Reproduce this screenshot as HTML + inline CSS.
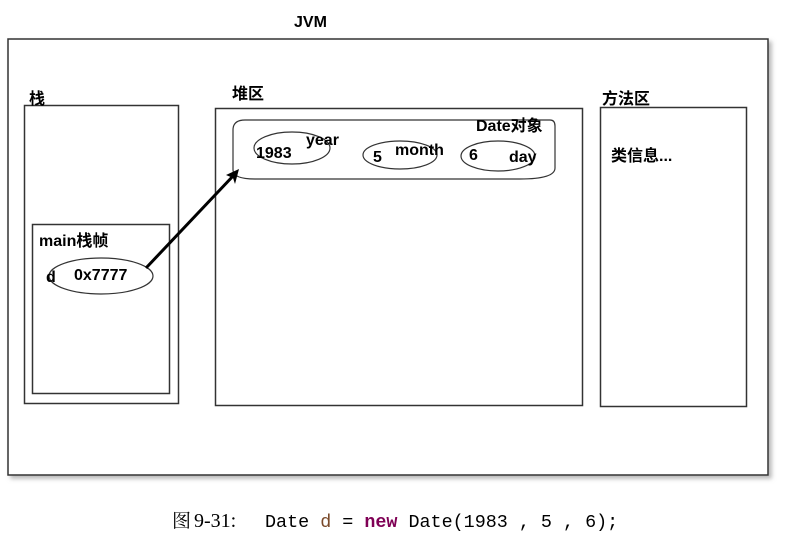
<!DOCTYPE html>
<html><head><meta charset="utf-8"><style>
html,body{margin:0;padding:0;background:#fff;}
body{width:789px;height:541px;position:relative;overflow:hidden;}
svg{position:absolute;left:0;top:0;}
.t{font-family:"Liberation Sans","Noto Sans CJK SC",sans-serif;font-weight:bold;font-size:16px;fill:#000;}
</style></head><body>
<svg width="789" height="541" viewBox="0 0 789 541">
  <defs>
    <filter id="sh" x="-5%" y="-5%" width="110%" height="110%">
      <feDropShadow dx="3" dy="3" stdDeviation="2" flood-color="#888" flood-opacity="0.6"/>
    </filter>
  </defs>
  <rect x="8" y="39" width="760" height="436" fill="#fff" stroke="#333" stroke-width="1.5" filter="url(#sh)"/>
  <text class="t" x="294" y="27" font-size="17">JVM</text>
  <rect x="24.5" y="105.5" width="154" height="298" fill="none" stroke="#333" stroke-width="1.5"/>
  <text class="t" x="29" y="104">栈</text>
  <rect x="32.5" y="224.5" width="137" height="169" fill="none" stroke="#333" stroke-width="1.5"/>
  <text class="t" x="39" y="246">main栈帧</text>
  <ellipse cx="101" cy="276" rx="52" ry="18" fill="none" stroke="#333" stroke-width="1.2"/>
  <text class="t" x="46" y="282" font-size="17">d</text>
  <text class="t" x="74" y="280" font-size="17">0x7777</text>
  <rect x="215.5" y="108.5" width="367" height="297" fill="none" stroke="#333" stroke-width="1.5"/>
  <text class="t" x="232" y="99">堆区</text>
  <path d="M245,120 L550,120 Q555,120 555,126 L555,168 Q555,179 520,179 L255,179 Q233,179 233,170 L233,130 Q233,120 245,120 Z" fill="none" stroke="#333" stroke-width="1.2"/>
  <text class="t" x="476" y="131">Date对象</text>
  <ellipse cx="292" cy="148" rx="38" ry="16" fill="none" stroke="#333" stroke-width="1.2"/>
  <text class="t" x="256" y="158" font-size="17">1983</text>
  <text class="t" x="306" y="145">year</text>
  <ellipse cx="400" cy="155" rx="37" ry="14" fill="none" stroke="#333" stroke-width="1.2"/>
  <text class="t" x="373" y="162" font-size="17">5</text>
  <text class="t" x="395" y="155">month</text>
  <ellipse cx="498" cy="156" rx="37" ry="15" fill="none" stroke="#333" stroke-width="1.2"/>
  <text class="t" x="469" y="160" font-size="17">6</text>
  <text class="t" x="509" y="162">day</text>
  <rect x="600.5" y="107.5" width="146" height="299" fill="none" stroke="#333" stroke-width="1.5"/>
  <text class="t" x="602" y="104">方法区</text>
  <text class="t" x="611" y="161">类信息...</text>
  <line x1="146" y1="268" x2="234" y2="175" stroke="#000" stroke-width="3"/>
  <path d="M239,169 L226,175 L233,178 L235,184 Z" fill="#000"/>
  <text x="172" y="527" font-family="'Noto Serif CJK SC','Liberation Serif',serif" font-size="19">图</text>
  <text x="194" y="527" font-family="'Liberation Serif',serif" font-size="20">9-31:</text>
  <text x="265" y="527" font-family="'Liberation Mono',monospace" font-size="18.4" fill="#000" xml:space="preserve">Date <tspan fill="#7a4a2a">d</tspan> = <tspan fill="#7f0055" font-weight="bold">new</tspan> Date(1983 , 5 , 6);</text>
</svg>
</body></html>
